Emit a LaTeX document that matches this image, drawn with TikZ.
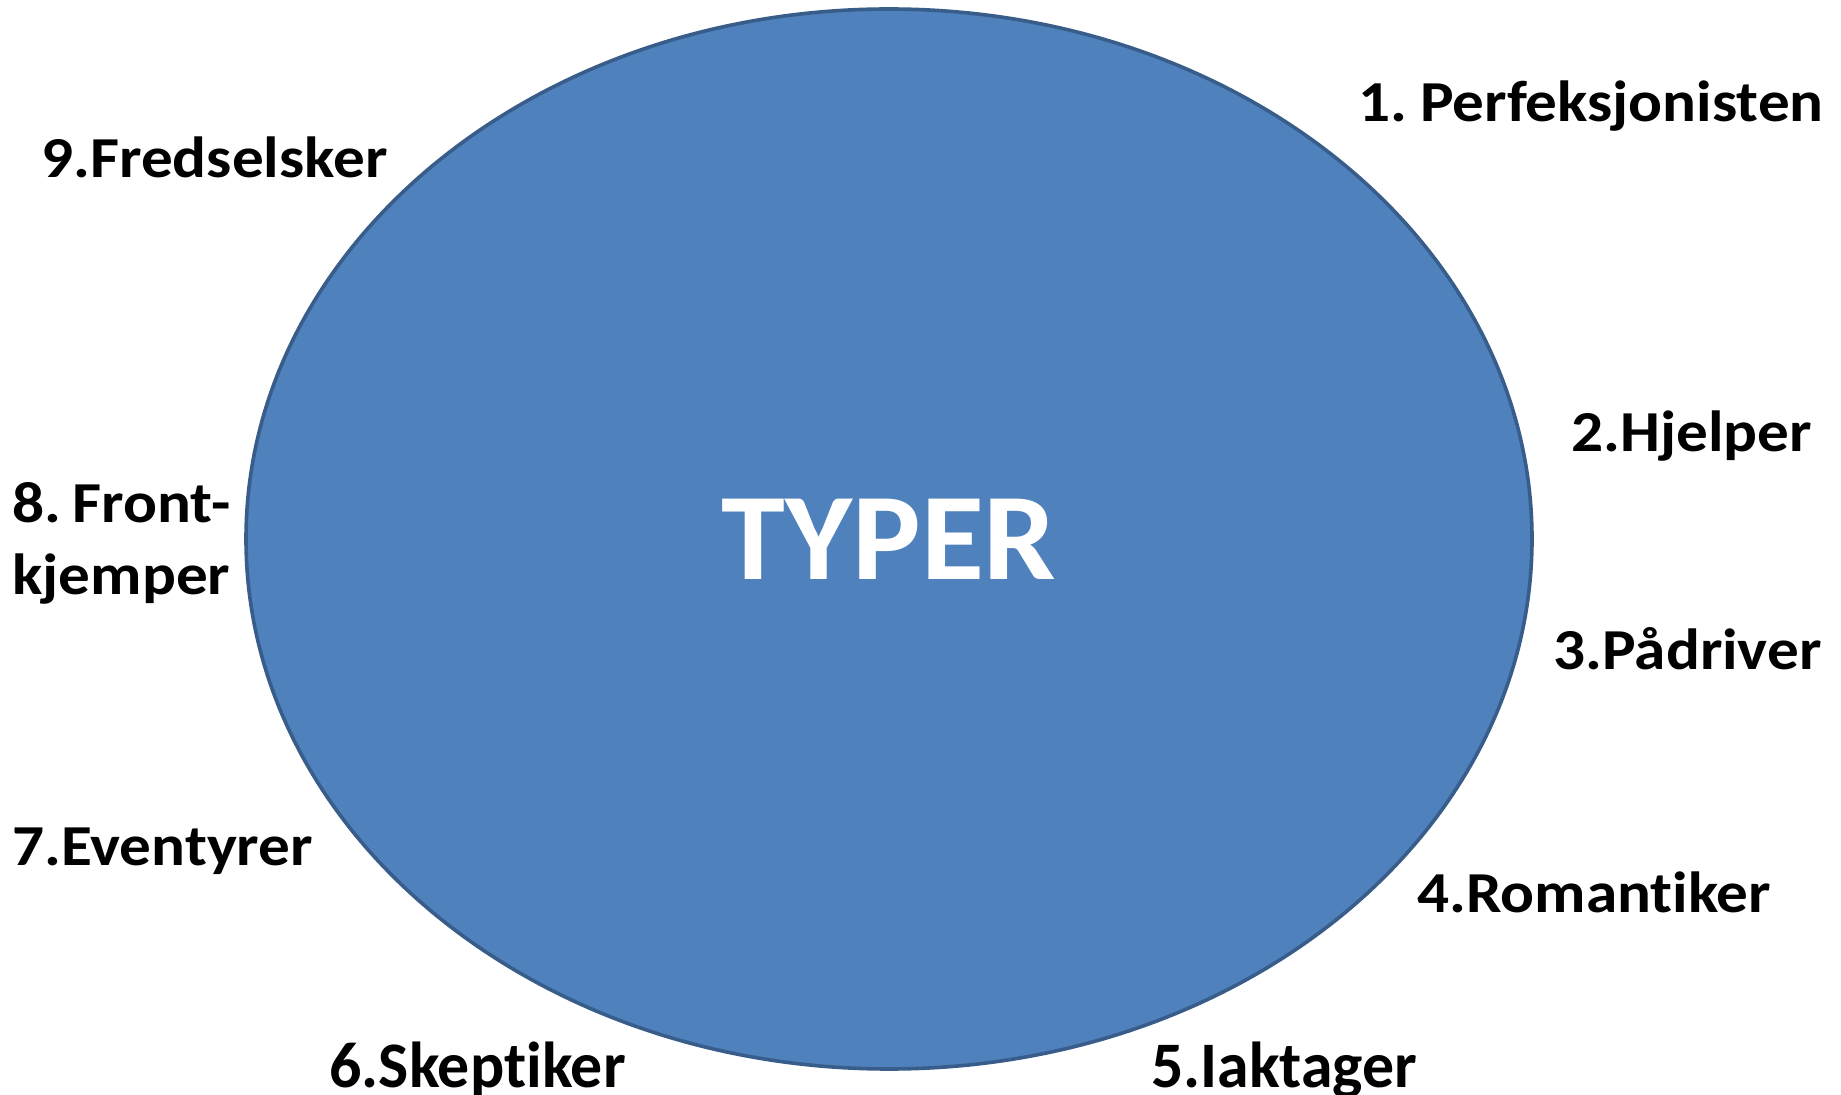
\documentclass[tikz,border=0pt]{standalone}
\usepackage{fontspec}
\setmainfont{Carlito}[Ligatures=NoCommon]
\definecolor{typefill}{HTML}{4F81BD}
\definecolor{typeline}{HTML}{385D8A}
\tikzset{
  typelabel/.style={anchor=base west, inner sep=0pt, font=\fontsize{29}{36}\selectfont\bfseries, align=left, xscale=1.09},
  squeezed/.style={typelabel, xscale=1.01, yscale=1.12}
}

\begin{document}
\begin{tikzpicture}[x=0.5pt, y=-0.5pt]
				\useasboundingbox (0, 0) rectangle (1841, 1095);

				% the big oval
				\draw[line width=1.8pt, draw=typeline, fill=typefill] (889, 539) ellipse [x radius=643, y radius=530];
				\node[anchor=base, inner sep=0pt, text=white, xscale=1.04, font=\fontsize{62}{70}\selectfont\bfseries] (typer) at (889, 580) {TYPER};

				% the nine types round it
				\node[typelabel] (perf) at (1358, 122) {1.\hspace{-0.1em} Perfeksjonisten};
				\node[typelabel] (hjelper) at (1571, 452) {2.Hjelper};
				\node[typelabel] (padriver) at (1553, 669) {3.Pådriver};
				\node[typelabel] (romantiker) at (1417, 912) {4.Romantiker};
				\node[squeezed] (iaktager) at (1151, 1087) {5.Iaktager};
				\node[squeezed] (skeptiker) at (329, 1087) {6.Skeptiker};
				\node[typelabel] (eventyrer) at (12, 865) {7.Eventyrer};
				\node[typelabel] (front) at (12, 595) {8.\hspace{-0.12em} Front-\\kjemper};
				\node[typelabel] (fred) at (41, 178) {9.Fredselsker};
			\end{tikzpicture}
\end{document}
